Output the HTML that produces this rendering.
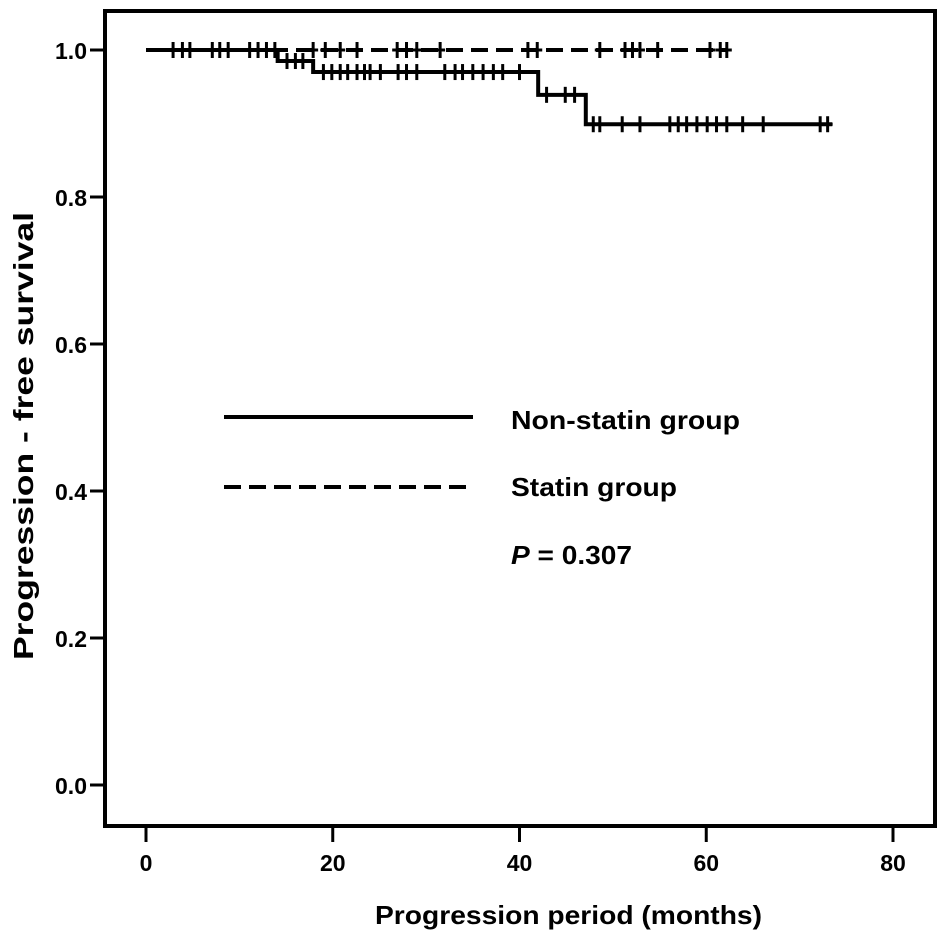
<!DOCTYPE html>
<html><head><meta charset="utf-8"><style>
html,body{margin:0;padding:0;background:#fff;}
svg text{font-family:"Liberation Sans",Arial,sans-serif;font-weight:bold;fill:#000;}
</style></head><body>
<svg id="chart" width="945" height="937" xmlns="http://www.w3.org/2000/svg">
<rect x="105" y="11" width="830" height="815" fill="none" stroke="#000" stroke-width="4"/>
<g id="axes"></g>
<g id="series"></g>
<g>
<line x1="224" y1="417" x2="473" y2="417" stroke="#000" stroke-width="4"/>
<text x="511" y="429" font-size="26" textLength="229" lengthAdjust="spacingAndGlyphs">Non-statin group</text>
<line x1="224" y1="487" x2="473" y2="487" stroke="#000" stroke-width="4" stroke-dasharray="17,8"/>
<text x="511" y="496" font-size="26" textLength="166" lengthAdjust="spacingAndGlyphs">Statin group</text>
<text x="511" y="564" font-size="26" textLength="121" lengthAdjust="spacingAndGlyphs"><tspan font-style="italic">P</tspan> = 0.307</text>
</g>
<text x="375" y="924" font-size="26" textLength="387" lengthAdjust="spacingAndGlyphs">Progression period (months)</text>
<text transform="translate(33,660) rotate(-90)" font-size="28" textLength="448" lengthAdjust="spacingAndGlyphs">Progression - free survival</text>
</svg>
<script>
const xTicks=[0,20,40,60,80];
const yTicks=[0.0,0.2,0.4,0.6,0.8,1.0];
const nonStatinTimes=[0,14.1,17.9,42,47.1];
const nonStatinSurv=[1,0.985,0.97,0.939,0.899];
const nonStatinEnd=73.5;
const nonStatinCensor=[2.9,3.9,4.7,7.1,7.9,8.8,11.1,12.0,12.9,13.8,15.1,16.0,16.8,19.0,19.9,20.8,21.6,22.6,23.4,24.0,25.1,27.0,27.9,29.0,32.0,33.1,33.9,35.0,36.1,37.2,38.2,40.0,42.9,44.9,45.9,47.9,48.6,51.0,52.9,56.1,57.0,57.9,59.0,60.1,61.1,62.2,63.9,66.1,72.2,73.0];
const statinTimes=[0];
const statinSurv=[1];
const statinEnd=62.2;
const statinCensor=[17.9,19.2,20.8,22.6,26.9,27.9,29.0,31.5,40.9,41.9,48.6,51.3,52.1,52.9,54.8,60.4,61.5,62.2];
const NS="http://www.w3.org/2000/svg";
const X=v=>146+v*(893-146)/80;
const Y=v=>785-v*735;
function mk(tag,attrs,parent){const e=document.createElementNS(NS,tag);for(const k in attrs)e.setAttribute(k,attrs[k]);parent.appendChild(e);return e;}
const axes=document.getElementById('axes');
xTicks.forEach(t=>{
  const l=mk('line',{x1:X(t),x2:X(t),y1:828,y2:842,stroke:'#000','stroke-width':3},axes);
  
  
  const tx=mk('text',{x:X(t),y:871,'font-size':23,'text-anchor':'middle'},axes);
  tx.textContent=String(t);
  
  
});
yTicks.forEach(t=>{
  const l=mk('line',{x1:90,x2:104,y1:Y(t),y2:Y(t),stroke:'#000','stroke-width':3},axes);
  
  
  const tx=mk('text',{x:87,y:Y(t)+9,'font-size':23,'text-anchor':'end'},axes);
  tx.textContent=t.toFixed(1);
  
  
});
const ser=document.getElementById('series');
function survAt(times,surv,t){let s=surv[0];for(let i=0;i<times.length;i++){if(times[i]<=t)s=surv[i];}return s;}
function drawSeries(times,surv,end,censor,dash,name){
  let d='M'+X(times[0])+','+Y(surv[0]);
  for(let i=1;i<times.length;i++){d+=' H'+X(times[i])+' V'+Y(surv[i]);}
  d+=' H'+X(end);
  const p=mk('path',{d:d,fill:'none',stroke:'#000','stroke-width':4},ser);
  if(dash)p.setAttribute('stroke-dasharray','17,8');
  
  
  censor.forEach(c=>{
    const y=Y(survAt(times,surv,c));
    const m=mk('line',{x1:X(c),x2:X(c),y1:y-8,y2:y+8,stroke:'#000','stroke-width':3},ser);
    
    
    const h=mk('line',{x1:X(c)-5,x2:X(c)+5,y1:y,y2:y,stroke:'#000','stroke-width':3},ser);
    
    
  });
}
drawSeries(statinTimes,statinSurv,statinEnd,statinCensor,true,'statin');
drawSeries(nonStatinTimes,nonStatinSurv,nonStatinEnd,nonStatinCensor,false,'non-statin');
</script>
</body></html>
